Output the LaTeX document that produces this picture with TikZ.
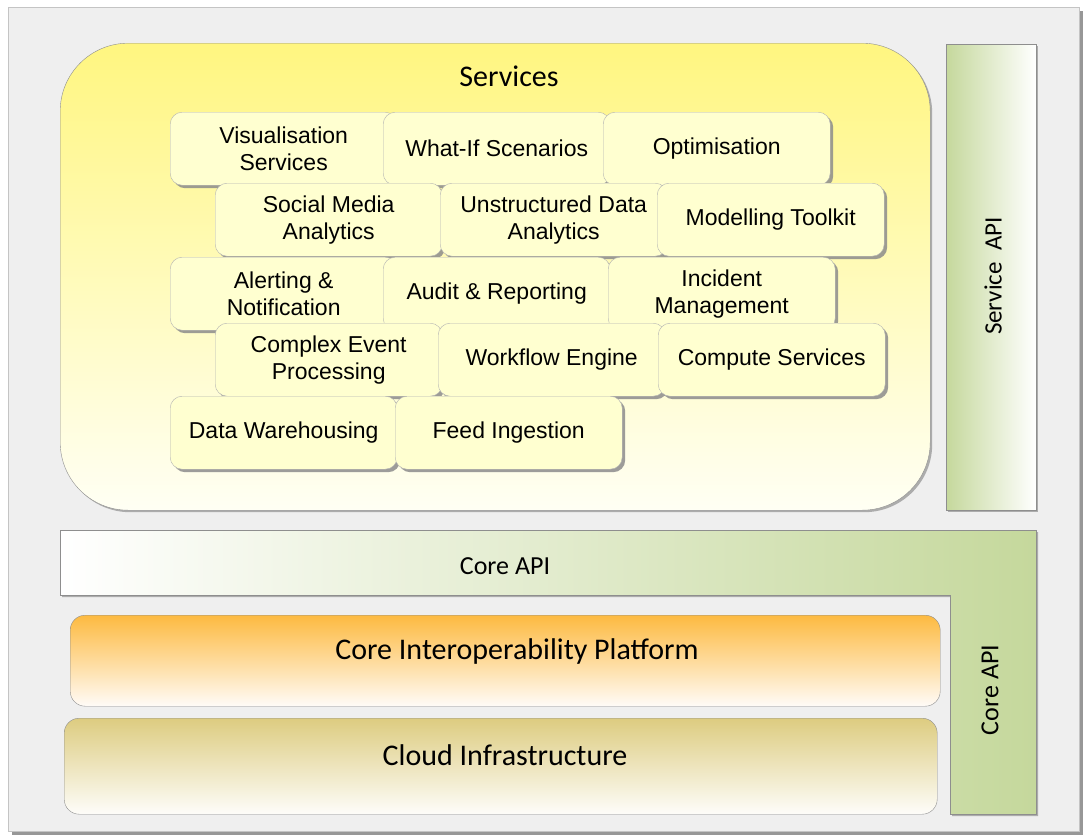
\documentclass[tikz,border=0pt]{standalone}
\usepackage{fontspec}
\usetikzlibrary{shadows}
\usetikzlibrary{positioning}

\newfontfamily\tilefont{Liberation Sans}
\newfontfamily\layerfont{Carlito}

\definecolor{panelgray}{HTML}{EFEFEF}
\definecolor{panelline}{HTML}{C4C4C4}
\definecolor{edgegray}{HTML}{8E8E8E}
\definecolor{svctop}{HTML}{FFF680}
\definecolor{svcmid}{HTML}{FFFAAE}
\definecolor{svcbot}{HTML}{FFFFF4}
\definecolor{tileyellow}{HTML}{FFFFD0}
\definecolor{apigreen}{HTML}{C5D89C}
\definecolor{coreorange}{HTML}{FDBA40}
\definecolor{cloudkhaki}{HTML}{DDCC80}

\tikzset{
  softshadow/.style={drop shadow={shadow xshift=2pt, shadow yshift=-2pt, fill=gray, opacity=0.6}},
  tile/.style={draw=gray!60, fill=tileyellow, rounded corners=12pt,
    minimum width=227pt, minimum height=73pt, inner sep=0pt,
    anchor=north west, align=center,
    font=\tilefont\fontsize{23}{27}\selectfont,
    drop shadow={shadow xshift=3pt, shadow yshift=-3pt, fill=gray!90, opacity=0.85}},
  layertext/.style={font=\layerfont\fontsize{30}{34}\selectfont},
  apitext/.style={font=\layerfont\fontsize{26}{30}\selectfont},
}

\begin{document}
\begin{tikzpicture}[x=1pt,y=-1pt]
  \useasboundingbox (0,0) rectangle (1085,838);

  % background panel
  \draw[fill=panelgray, draw=panelline,
    drop shadow={shadow xshift=4pt, shadow yshift=-4pt, fill=gray!90, opacity=0.9}]
    (8,7) rectangle (1079,831);

  % services layer
  \node[draw=edgegray, top color=svctop, middle color=svcmid, bottom color=svcbot,
    rounded corners=68pt, minimum width=870pt, minimum height=467pt,
    anchor=north west, softshadow] (services) at (60,43) {};
  \node[layertext] (servicestitle) at (509,76) {Services};

  % service tiles, row by row
  \node[tile] (vis) at (170,112) {Visualisation\\Services};
  \node[tile] (whatif) at (383,112) {What-If Scenarios};
  \node[tile] (optim) at (603,112) {Optimisation};

  \node[tile] (social) at (215,183) {Social Media\\Analytics};
  \node[tile] (unstruct) at (440,183) {Unstructured Data\\Analytics};
  \node[tile] (model) at (657,183) {Modelling Toolkit};

  \node[tile] (alert) at (170,257) {Alerting \&\\Notification};
  \node[tile] (audit) at (383,257) {Audit \& Reporting};
  \node[tile] (incident) at (608,257) {Incident\\Management};

  \node[tile] (cep) at (215,323) {Complex Event\\Processing};
  \node[tile] (workflow) at (438,323) {Workflow Engine};
  \node[tile] (compute) at (658,323) {Compute Services};

  \node[tile] (dwh) at (170,396) {Data Warehousing};
  \node[tile] (feed) at (395,396) {Feed Ingestion};

  % service api
  \draw[draw=edgegray, left color=apigreen, right color=white, softshadow]
    (946,44) rectangle (1036,510);
  \node[apitext, rotate=90, font=\layerfont\fontsize{25}{30}\selectfont] (serviceapi) at (993,276) {Service~~API};

  % core api, L shaped
  \draw[draw=edgegray, left color=white, right color=apigreen, softshadow]
    (60,530) -- (1036,530) -- (1036,814) -- (950,814) -- (950,595) -- (60,595) -- cycle;
  \node[apitext] (coreapi) at (505,566) {Core API};
  \node[apitext, rotate=90] (coreapiside) at (990,690) {Core API};

  % platform layers
  \node[draw=edgegray, top color=coreorange, bottom color=white!97!orange,
    rounded corners=15pt, minimum width=870pt, minimum height=91pt,
    anchor=north west] (platform) at (70,615) {};
  \node[layertext] (platformtext) at (517,651) {Core Interoperability Platform};

  \node[draw=edgegray, top color=cloudkhaki, bottom color=white!96!cloudkhaki,
    rounded corners=15pt, minimum width=873pt, minimum height=96pt,
    anchor=north west] (cloud) at (64,718) {};
  \node[layertext] (cloudtext) at (505,755) {Cloud Infrastructure};
\end{tikzpicture}
\end{document}
